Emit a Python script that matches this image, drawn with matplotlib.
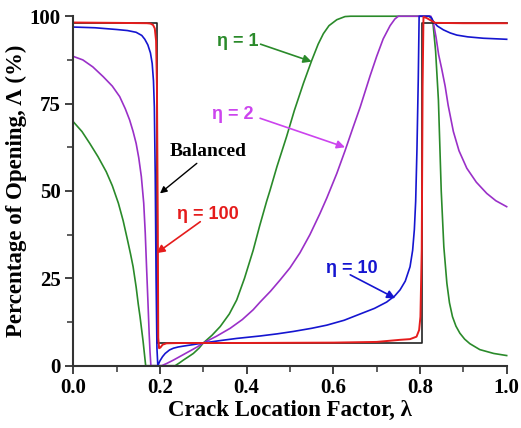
import matplotlib
matplotlib.use("Agg")
import matplotlib.pyplot as plt

# Data
balanced_x = [0.0, 0.194, 0.194, 0.805, 0.805, 1.0]
balanced_y = [98.0, 98.0, 6.5, 6.5, 98.0, 98.0]

eta100_x = [0.0, 0.10, 0.17, 0.178, 0.184, 0.188, 0.191, 0.193, 0.195, 0.196, 0.198, 0.201,
            0.206, 0.215, 0.25, 0.40, 0.60, 0.70, 0.754, 0.777, 0.792, 0.798, 0.801, 0.804,
            0.806, 0.808, 0.815, 0.825, 0.835, 0.90, 1.0]
eta100_y = [98.2, 98.1, 98.0, 97.9, 97.5, 96.5, 93.0, 80.0, 40.0, 8.0, 5.0, 5.2,
            6.0, 6.4, 6.5, 6.5, 6.6, 6.8, 7.4, 7.6, 8.3, 10.2, 14.0, 33.0,
            80.0, 99.8, 99.5, 98.8, 98.1, 98.0, 98.0]

eta10_x = [0.0, 0.05, 0.10, 0.125, 0.145, 0.158, 0.165, 0.172, 0.178, 0.182, 0.185, 0.187,
           0.189, 0.191, 0.193, 0.195, 0.200, 0.206, 0.212, 0.222, 0.231, 0.242, 0.254,
           0.275, 0.30, 0.34, 0.377, 0.431, 0.47, 0.508, 0.55, 0.585, 0.625, 0.662, 0.695,
           0.723, 0.742, 0.754, 0.766, 0.777, 0.783, 0.787, 0.790, 0.793, 0.796, 0.798,
           0.81, 0.822, 0.826, 0.831, 0.84, 0.854, 0.87, 0.885, 0.91, 0.946, 1.0]
eta10_y = [96.9, 96.7, 96.2, 95.9, 95.4, 94.5, 93.4, 91.8, 89.5, 86.5, 81.5, 74.0,
           55.0, 25.0, 5.0, 0.0, 1.4, 2.6, 3.5, 4.5, 5.0, 5.35, 5.6,
           6.0, 6.5, 7.2, 7.8, 8.5, 9.1, 9.8, 10.7, 11.6, 13.0, 14.8, 16.4,
           18.2, 20.0, 21.7, 24.2, 28.3, 33.0, 39.0, 47.0, 62.0, 82.0, 100.0,
           100.0, 100.0, 99.6, 98.5, 97.2, 96.1, 95.2, 94.6, 94.1, 93.7, 93.4]

eta2_x = [0.0, 0.022, 0.045, 0.069, 0.09, 0.107, 0.12, 0.13, 0.138, 0.145, 0.151, 0.157,
          0.1625, 0.166, 0.169, 0.172, 0.175, 0.177, 0.179, 0.204, 0.215, 0.231, 0.25, 0.269,
          0.285, 0.30, 0.33, 0.362, 0.39, 0.415, 0.431, 0.455, 0.477, 0.50, 0.523, 0.546,
          0.569, 0.585, 0.608, 0.627, 0.645, 0.662, 0.685, 0.70, 0.715, 0.731, 0.742, 0.75,
          0.80, 0.825, 0.831, 0.837, 0.843, 0.85, 0.858, 0.865, 0.877, 0.89, 0.908, 0.93,
          0.954, 0.975, 1.0]
eta2_y = [88.5, 87.5, 85.5, 82.7, 80.0, 77.0, 73.5, 70.3, 67.0, 63.6, 59.5, 54.1,
          46.5, 38.0, 28.3, 19.0, 9.3, 4.0, 0.0, 0.0, 0.6, 1.6, 2.9, 4.2,
          5.3, 6.5, 8.4, 10.7, 13.2, 16.0, 18.2, 21.3, 24.5, 28.0, 32.3, 37.5,
          43.5, 48.0, 55.0, 61.5, 68.0, 74.0, 83.0, 88.5, 93.5, 97.3, 99.2, 100.0,
          100.0, 100.0, 98.0, 94.0, 89.0, 85.0, 80.0, 74.5, 67.0, 61.5, 56.5, 52.5,
          49.3, 47.2, 45.5]

eta1_x = [0.0, 0.02, 0.038, 0.057, 0.076, 0.09, 0.104, 0.115, 0.125, 0.132, 0.138, 0.145,
          0.15, 0.154, 0.158, 0.161, 0.164, 0.167, 0.235, 0.245, 0.254, 0.265, 0.277, 0.29,
          0.30, 0.32, 0.339, 0.36, 0.377, 0.395, 0.415, 0.43, 0.446, 0.454, 0.47, 0.492,
          0.51, 0.531, 0.55, 0.565, 0.577, 0.59, 0.608, 0.627, 0.64, 0.82, 0.826, 0.83,
          0.836, 0.8425, 0.849, 0.855, 0.862, 0.868, 0.875, 0.883, 0.892, 0.903, 0.915,
          0.938, 0.97, 1.0]
eta1_y = [69.8, 67.0, 63.6, 59.8, 55.5, 51.5, 46.5, 41.5, 36.0, 32.0, 28.3, 22.5,
          17.5, 14.0, 10.0, 7.0, 3.5, 0.0, 0.0, 0.8, 1.6, 2.5, 3.5, 5.0,
          6.5, 8.7, 11.2, 14.8, 18.8, 25.0, 33.0, 40.0, 47.0, 50.2, 57.0, 65.5,
          73.0, 80.8, 87.3, 92.0, 95.0, 97.3, 99.0, 99.9, 100.0, 100.0, 99.5, 98.0,
          90.0, 76.0, 50.0, 34.0, 23.6, 18.0, 14.0, 11.3, 9.3, 7.6, 6.3,
          4.6, 3.5, 2.9]

c_green = "#2a8a2a"
c_purple = "#9a30c8"
c_magenta = "#cc44ee"
c_blue = "#1515d0"
c_red = "#e51c1c"

serif = ["Liberation Serif", "DejaVu Serif"]
sans = ["Liberation Sans", "DejaVu Sans"]

fig = plt.figure(figsize=(5.21, 4.28), dpi=100)
ax = fig.add_axes([0.1407, 0.1456, 0.8318, 0.8165])

lw = 1.2
ax.plot(eta1_x, eta1_y, color=c_green, lw=lw, clip_on=False)
ax.plot(eta2_x, eta2_y, color=c_purple, lw=lw, clip_on=False)
ax.plot(balanced_x, balanced_y, color="#222222", lw=lw, clip_on=False)
ax.plot(eta10_x, eta10_y, color=c_blue, lw=lw, clip_on=False)
ax.plot(eta100_x, eta100_y, color=c_red, lw=lw + 0.2, clip_on=False)

ax.set_xlim(0, 1.0)
ax.set_ylim(0, 100)
ax.set_xticks([0.0, 0.2, 0.4, 0.6, 0.8, 1.0])
ax.set_xticks([0.1, 0.3, 0.5, 0.7, 0.9], minor=True)
ax.set_yticks([0, 25, 50, 75, 100])
ax.set_yticks([12.5, 37.5, 62.5, 87.5], minor=True)
ax.set_xticklabels(["0.0", "0.2", "0.4", "0.6", "0.8", "1.0"])

for s in ["top", "right"]:
    ax.spines[s].set_visible(False)
for s in ["left", "bottom"]:
    ax.spines[s].set_linewidth(1.5)
    ax.spines[s].set_color("#333333")

ax.tick_params(which="major", direction="out", length=6, width=1.3, colors="#333333",
               labelcolor="black", labelsize=15, pad=3)
ax.tick_params(which="minor", direction="out", length=4, width=1.1, colors="#333333")
for lab in ax.get_xticklabels() + ax.get_yticklabels():
    lab.set_fontfamily(serif)
    lab.set_fontweight("bold")

ax.set_xlabel("Crack Location Factor, \u03bb", fontsize=16.5, fontweight="bold", family=serif, labelpad=1)
ax.set_ylabel("Percentage of Opening, \u039b (%)", fontsize=16.5, fontweight="bold", family=serif, labelpad=2)

# Labels and arrows
def arrow(start, end, color, lw=1.2, ms=12):
    ax.annotate("", xy=end, xytext=start,
                arrowprops=dict(arrowstyle="-|>", color=color, lw=lw, mutation_scale=ms,
                                shrinkA=0, shrinkB=0))

ax.text(0.379, 92.7, "\u03b7 = 1", color=c_green, fontsize=13, fontweight="bold",
        family=sans, ha="center", va="center")
arrow((0.432, 92.0), (0.55, 87.0), c_green)

ax.text(0.369, 71.8, "\u03b7 = 2", color=c_magenta, fontsize=13, fontweight="bold",
        family=sans, ha="center", va="center")
arrow((0.431, 70.8), (0.627, 62.5), c_magenta)

ax.text(0.311, 61.3, "Balanced", color="black", fontsize=14, fontweight="bold",
        family=serif, ha="center", va="center")
arrow((0.285, 57.9), (0.2, 49.3), "black", lw=1.0, ms=10)

ax.text(0.311, 43.4, "\u03b7 = 100", color=c_red, fontsize=13, fontweight="bold",
        family=sans, ha="center", va="center")
arrow((0.293, 41.2), (0.192, 32.2), c_red)

ax.text(0.642, 27.9, "\u03b7 = 10", color=c_blue, fontsize=13, fontweight="bold",
        family=sans, ha="center", va="center")
arrow((0.639, 26.0), (0.743, 19.3), c_blue)

fig.savefig("out.png", dpi=100)
